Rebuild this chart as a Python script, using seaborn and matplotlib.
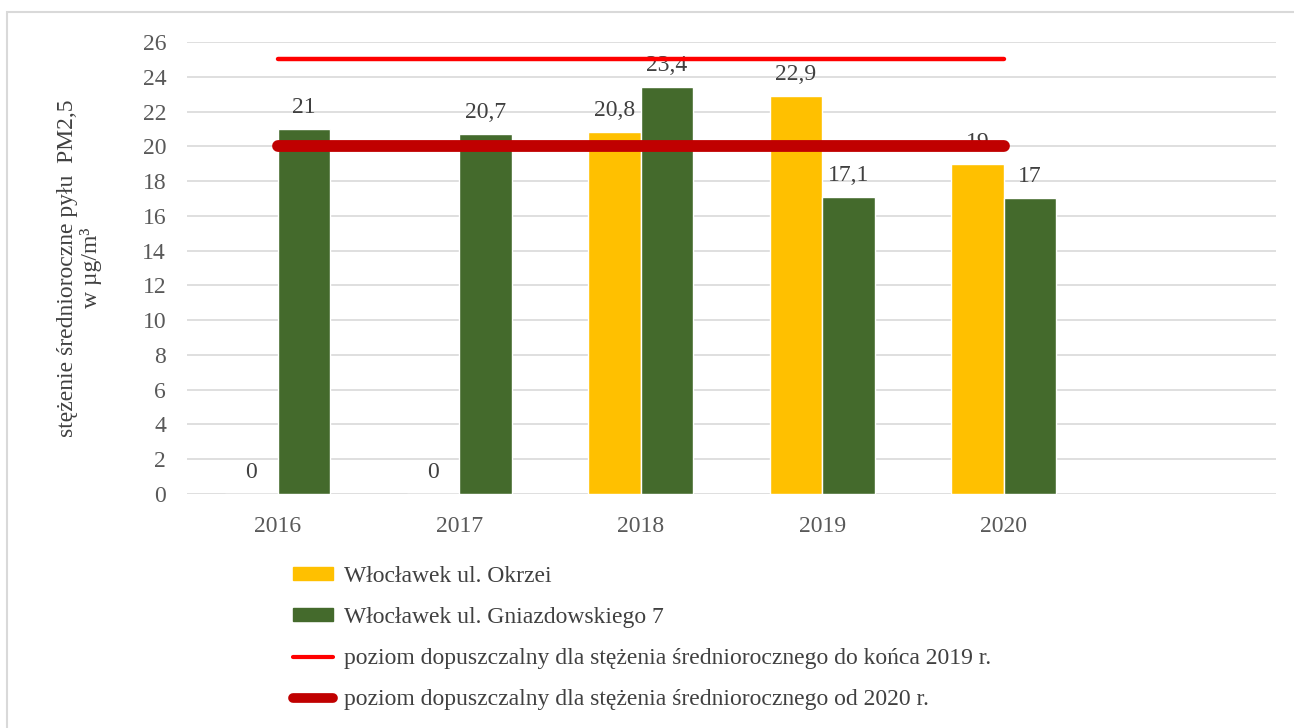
import matplotlib
matplotlib.use("Agg")
import matplotlib.pyplot as plt
import matplotlib.patches as mpatches
from matplotlib.lines import Line2D
import pandas as pd
import seaborn as sns

# Data
years = ["2016", "2017", "2018", "2019", "2020", ""]
okrzei = [0, 0, 20.8, 22.9, 19]
gniazdowskiego = [21, 20.7, 23.4, 17.1, 17]
station_names = ["Włocławek ul. Okrzei", "Włocławek ul. Gniazdowskiego 7"]
limit_old = 25     # do końca 2019 r.
limit_new = 20     # od 2020 r.
limit_span = ["2016", "2020"]
limit_names = ["poziom dopuszczalny dla stężenia średniorocznego do końca 2019 r.",
               "poziom dopuszczalny dla stężenia średniorocznego od 2020 r."]

colors = ["#FFC000", "#446A2C"]
red = "#FF0000"
dark_red = "#C00000"

df = pd.DataFrame({
    "rok": years[:5] * 2,
    "stacja": [station_names[0]] * 5 + [station_names[1]] * 5,
    "wartosc": okrzei + gniazdowskiego,
})

sns.set_style("white")
plt.rcParams["font.family"] = ["Liberation Serif", "DejaVu Serif"]
FS = 17

fig = plt.figure(figsize=(12.94, 7.28), dpi=100)
ax = fig.add_axes([187 / 1294, 1 - 494 / 728, 1089 / 1294, 452 / 728])

sns.barplot(data=df, x="rok", y="wartosc", hue="stacja", order=years,
            hue_order=station_names, palette=colors, width=0.58,
            saturation=1, ax=ax, legend=False, zorder=2)

# data labels with comma as decimal separator
for cont, vals in zip(ax.containers, [okrzei, gniazdowskiego]):
    labels = [f"{v:g}".replace(".", ",") for v in vals]
    ax.bar_label(cont, labels=labels, padding=8, fontsize=FS, color="#404040")

# limit lines
x0, x1 = years.index(limit_span[0]), years.index(limit_span[1])
ax.plot([x0, x1], [limit_old, limit_old], color=red, lw=3.2,
        solid_capstyle="round", zorder=3)
ax.plot([x0, x1], [limit_new, limit_new], color=dark_red, lw=8.5,
        solid_capstyle="round", zorder=3)

ax.set_xlim(-0.5, len(years) - 0.5)
ax.set_ylim(0, 26)
ax.set_yticks(range(0, 27, 2))
ax.yaxis.grid(True, color="#D9D9D9", lw=1.2)
ax.set_axisbelow(True)
for s in ax.spines.values():
    s.set_visible(False)
ax.tick_params(axis="both", length=0, labelsize=FS, labelcolor="#595959")
ax.tick_params(axis="y", pad=15)
ax.tick_params(axis="x", pad=16)
ax.set_xlabel("")
ax.set_ylabel("stężenie średnioroczne pyłu  PM2,5\nw µg/m³", fontsize=FS,
              color="#404040", linespacing=1.15)
ax.yaxis.set_label_coords(-0.078, 0.5)

handles = [
    mpatches.Patch(color=colors[0]),
    mpatches.Patch(color=colors[1]),
    Line2D([], [], color=red, lw=3, solid_capstyle="round"),
    Line2D([], [], color=dark_red, lw=7, solid_capstyle="round"),
]
fig.legend(handles, station_names + limit_names, loc="upper left",
           bbox_to_anchor=(293 / 1294, 1 - 566 / 728), frameon=False,
           fontsize=FS, labelcolor="#404040", handlelength=1.7,
           handleheight=0.5, handletextpad=0.45, labelspacing=0.85,
           borderpad=0, borderaxespad=0)

# light frame around the chart
fig.patches.append(mpatches.Rectangle((7 / 1294, -0.1), 1.2, 1 - 12 / 728 + 0.1,
                                      transform=fig.transFigure, fill=False,
                                      edgecolor="#D9D9D9", lw=1.5))

fig.savefig("out.png", dpi=100)
